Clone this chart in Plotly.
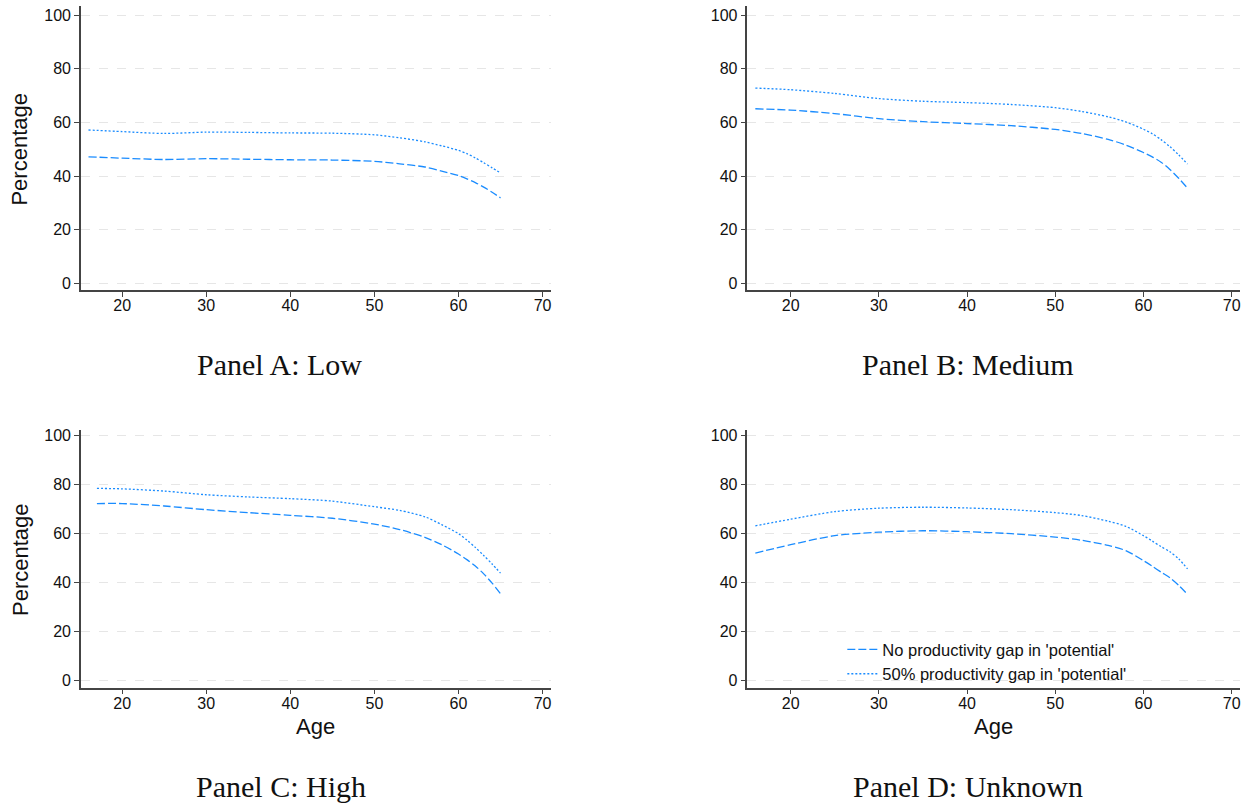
import plotly.graph_objects as go

W, H = 1250, 805

# ---------------- data ----------------
ages = [16, 20, 25, 30, 35, 40, 45, 50, 53, 56, 58, 60, 61, 62, 63, 64, 65]
ages_c = [17, 20, 25, 30, 35, 40, 45, 50, 53, 56, 58, 60, 61, 62, 63, 64, 65]

low_nogap = [47.2, 46.7, 46.2, 46.5, 46.3, 46.1, 46.0, 45.5, 44.6, 43.4, 41.9, 40.2, 39.0, 37.6, 35.9, 34.0, 31.9]
low_gap50 = [57.2, 56.6, 55.9, 56.4, 56.3, 56.1, 56.0, 55.4, 54.3, 52.8, 51.3, 49.6, 48.4, 46.8, 45.0, 43.1, 41.2]

med_nogap = [65.1, 64.6, 63.3, 61.4, 60.3, 59.6, 58.8, 57.4, 55.9, 53.7, 51.6, 48.8, 47.2, 45.2, 42.5, 39.2, 35.5]
med_gap50 = [72.8, 72.2, 70.8, 68.9, 67.9, 67.4, 66.7, 65.5, 64.1, 62.1, 60.2, 57.5, 55.8, 53.6, 51.0, 47.9, 44.5]

high_nogap = [72.2, 72.2, 71.2, 69.7, 68.5, 67.4, 66.2, 63.8, 61.6, 58.4, 55.4, 51.6, 49.3, 46.7, 43.5, 39.7, 35.4]
high_gap50 = [78.4, 78.2, 77.3, 75.8, 74.9, 74.2, 73.2, 70.9, 69.4, 66.8, 63.6, 59.9, 57.3, 54.3, 51.0, 47.5, 43.8]

unk_nogap = [52.0, 55.4, 59.1, 60.5, 61.1, 60.7, 59.9, 58.5, 57.2, 55.1, 53.0, 48.9, 46.6, 44.2, 41.9, 38.8, 35.1]
unk_gap50 = [63.1, 65.8, 68.9, 70.3, 70.7, 70.4, 69.7, 68.5, 67.3, 65.0, 62.9, 59.1, 56.9, 54.6, 52.5, 49.6, 45.5]

series_names = ["No productivity gap in 'potential'", "50% productivity gap in 'potential'"]
panel_titles = ["Panel A: Low", "Panel B: Medium", "Panel C: High", "Panel D: Unknown"]
x_ticks = [20, 30, 40, 50, 60, 70]
y_ticks = [0, 20, 40, 60, 80, 100]

# ---------------- styling ----------------
BLUE = "#1a8cff"
AXC = "#444444"
GRID = "#e6e6e6"
SANS = "Liberation Sans, Arial, sans-serif"
SERIF = "Liberation Serif, Times New Roman, serif"


def px_x(p):
    return p / W


def px_y(p):
    return 1 - p / H


# plot-area pixel boxes: (left, right, top, bottom)
boxes = [
    (81, 551, 3, 289),
    (748, 1241, 3, 289),
    (81, 551, 430, 689),
    (748, 1241, 430, 689),
]
yranges = [[-2.5, 103.4], [-2.5, 103.4], [-3.0, 102.1], [-3.0, 102.1]]
xrange_ = [15.1, 70.95]

panels = [
    (ages, low_nogap, low_gap50),
    (ages, med_nogap, med_gap50),
    (ages_c, high_nogap, high_gap50),
    (ages, unk_nogap, unk_gap50),
]

fig = go.Figure()
layout = {}
for i, (box, yr, (xs, nogap, gap50)) in enumerate(zip(boxes, yranges, panels)):
    n = i + 1
    xa = "x" if n == 1 else f"x{n}"
    ya = "y" if n == 1 else f"y{n}"
    show = (n == 4)
    fig.add_trace(go.Scatter(
        x=xs, y=nogap, mode="lines", name=series_names[0],
        line=dict(color=BLUE, width=1.3, dash="8px,3px", shape="spline", smoothing=0.8),
        xaxis=xa, yaxis=ya, showlegend=show, hoverinfo="skip"))
    fig.add_trace(go.Scatter(
        x=xs, y=gap50, mode="lines", name=series_names[1],
        line=dict(color=BLUE, width=1.3, dash="2px,2px", shape="spline", smoothing=0.8),
        xaxis=xa, yaxis=ya, showlegend=show, hoverinfo="skip"))

    l, r, t, b = box
    xkey = "xaxis" if n == 1 else f"xaxis{n}"
    ykey = "yaxis" if n == 1 else f"yaxis{n}"
    layout[xkey] = dict(
        domain=[px_x(l), px_x(r)], anchor=ya, range=xrange_,
        tickvals=x_ticks, ticks="outside", ticklen=5, tickwidth=1, tickcolor=AXC,
        ticklabelstandoff=-5,
        showline=True, linecolor=AXC, linewidth=1.5, showgrid=False, zeroline=False,
        tickfont=dict(family=SANS, size=16, color="#111111"), fixedrange=True)
    layout[ykey] = dict(
        domain=[px_y(b), px_y(t)], anchor=xa, range=yr,
        tickvals=y_ticks, ticks="outside", ticklen=5, tickwidth=1, tickcolor=AXC,
        showline=True, linecolor=AXC, linewidth=1.5,
        showgrid=True, gridcolor=GRID, gridwidth=1, griddash="dash", zeroline=False,
        tickfont=dict(family=SANS, size=16, color="#111111"), fixedrange=True)

annotations = []
# panel titles
title_pos = [(280, 364), (969, 364), (281, 788), (969, 788)]
for txt, (cx, cy) in zip(panel_titles, title_pos):
    annotations.append(dict(
        text=txt, x=px_x(cx), y=px_y(cy), xref="paper", yref="paper",
        xanchor="center", yanchor="middle", showarrow=False,
        font=dict(family=SERIF, size=30, color="#111111")))
# y axis titles
for cy in [146.5, 559.5]:
    annotations.append(dict(
        text="Percentage", x=px_x(20), y=px_y(cy), xref="paper", yref="paper",
        xanchor="center", yanchor="middle", showarrow=False, textangle=-90,
        font=dict(family=SANS, size=22, color="#111111")))
# x axis titles
for cx in [316, 994.5]:
    annotations.append(dict(
        text="Age", x=px_x(cx), y=px_y(728), xref="paper", yref="paper",
        xanchor="center", yanchor="middle", showarrow=False,
        font=dict(family=SANS, size=22, color="#111111")))

fig.update_layout(
    width=W, height=H,
    margin=dict(l=0, r=0, t=0, b=0),
    paper_bgcolor="white", plot_bgcolor="white",
    annotations=annotations,
    legend=dict(
        x=px_x(843), y=px_y(633), xanchor="left", yanchor="top",
        bgcolor="rgba(255,255,255,0)", borderwidth=0,
        font=dict(family=SANS, size=16.5, color="#111111"),
        tracegroupgap=0, itemwidth=30),
    **layout,
)

fig.write_html("out.html")
